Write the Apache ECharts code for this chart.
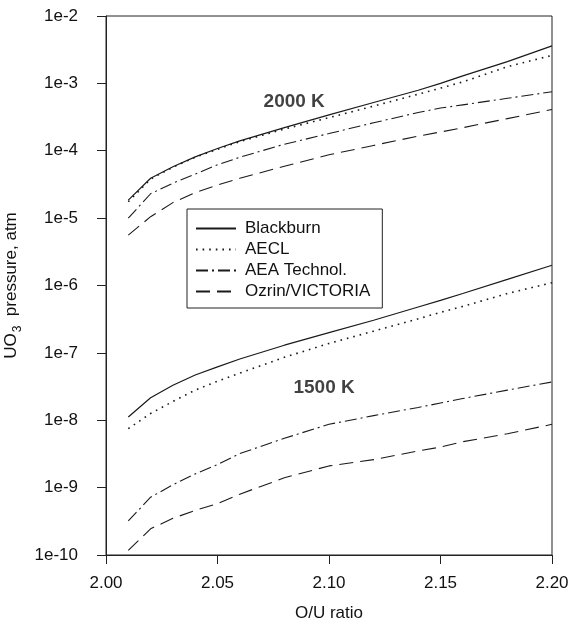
<!DOCTYPE html>
<html>
<head>
<meta charset="utf-8">
<script src="https://cdn.jsdelivr.net/npm/echarts@6/dist/echarts.min.js"></script>
<style>html,body{margin:0;padding:0;background:#fff}#c{width:571px;height:620px}</style>
</head>
<body>
<div id="c"></div>
<script>
// O/U ratio sample points
const ouRatio = [2.01, 2.02, 2.03, 2.04, 2.05, 2.06, 2.08, 2.10, 2.12, 2.14, 2.15, 2.16, 2.18, 2.20];

// 2000 K curves (atm)
const blackburn2000 = [1.85e-5, 3.9e-5, 5.8e-5, 8.1e-5, 1.08e-4, 1.4e-4, 2.2e-4, 3.4e-4, 5.2e-4, 7.9e-4, 1.0e-3, 1.29e-3, 2.1e-3, 3.6e-3];
const aecl2000      = [1.75e-5, 3.8e-5, 5.7e-5, 8.0e-5, 1.05e-4, 1.37e-4, 2.1e-4, 3.1e-4, 4.6e-4, 6.9e-4, 8.5e-4, 1.05e-3, 1.77e-3, 2.6e-3];
const aea2000       = [1.0e-5, 2.3e-5, 3.3e-5, 4.5e-5, 6.2e-5, 8.0e-5, 1.25e-4, 1.8e-4, 2.6e-4, 3.7e-4, 4.3e-4, 4.8e-4, 6.0e-4, 7.5e-4];
const ozrin2000     = [5.6e-6, 1.05e-5, 1.7e-5, 2.4e-5, 3.1e-5, 3.9e-5, 5.9e-5, 8.7e-5, 1.2e-4, 1.65e-4, 1.9e-4, 2.2e-4, 3.0e-4, 4.1e-4];

// 1500 K curves (atm)
const blackburn1500 = [1.12e-8, 2.16e-8, 3.3e-8, 4.7e-8, 6.2e-8, 8.1e-8, 1.3e-7, 2.0e-7, 3.05e-7, 4.8e-7, 6.0e-7, 7.6e-7, 1.23e-6, 2.0e-6];
const aecl1500      = [7.5e-9, 1.26e-8, 1.9e-8, 2.8e-8, 3.8e-8, 5.0e-8, 8.6e-8, 1.38e-7, 2.1e-7, 3.2e-7, 4.0e-7, 4.9e-7, 7.6e-7, 1.1e-6];
const aea1500       = [3.2e-10, 7.2e-10, 1.1e-9, 1.6e-9, 2.2e-9, 3.2e-9, 5.4e-9, 8.7e-9, 1.17e-8, 1.55e-8, 1.8e-8, 2.1e-8, 2.8e-8, 3.7e-8];
const ozrin1500     = [1.17e-10, 2.45e-10, 3.5e-10, 4.6e-10, 5.8e-10, 8.0e-10, 1.4e-9, 2.1e-9, 2.6e-9, 3.5e-9, 4.0e-9, 4.8e-9, 6.3e-9, 8.7e-9];

const legendNames = ['Blackburn', 'AECL', 'AEA Technol.', 'Ozrin/VICTORIA'];
const xTicks = [2.00, 2.05, 2.10, 2.15, 2.20];
const yTickExponents = [-10, -9, -8, -7, -6, -5, -4, -3, -2];
const tempLabels = [
  { name: '2000 K', x: 2.0844, y: 5.3e-4 },
  { name: '1500 K', x: 2.0978, y: 3.05e-8 }
];

const styles = {
  'Blackburn':      { type: 'solid', width: 1.2 },
  'AECL':           { type: [1.6, 5], width: 1.6 },
  'AEA Technol.':   { type: [12, 4, 2, 4], width: 1.1 },
  'Ozrin/VICTORIA': { type: [14, 7], width: 1.1 }
};

function pairs(arr) { return ouRatio.map((x, i) => [x, arr[i]]); }

function lineSeries(name, arr) {
  const s = styles[name];
  return {
    name: name, type: 'line', data: pairs(arr), symbol: 'none', showSymbol: false, smooth: false,
    lineStyle: { color: '#1a1a1a', width: s.width, type: s.type },
    itemStyle: { color: '#1a1a1a' }, silent: true, animation: false
  };
}

const series = [
  lineSeries('Blackburn', blackburn2000),
  lineSeries('AECL', aecl2000),
  lineSeries('AEA Technol.', aea2000),
  lineSeries('Ozrin/VICTORIA', ozrin2000),
  lineSeries('Blackburn', blackburn1500),
  lineSeries('AECL', aecl1500),
  lineSeries('AEA Technol.', aea1500),
  lineSeries('Ozrin/VICTORIA', ozrin1500),
  {
    name: 'labels', type: 'scatter', symbolSize: 0, silent: true, animation: false,
    data: tempLabels.map(t => ({ value: [t.x, t.y], name: t.name })),
    label: {
      show: true, position: 'inside', formatter: p => p.name,
      fontFamily: 'Liberation Sans, Arial, sans-serif', fontWeight: 'bold', fontSize: 19, color: '#111'
    }
  }
];

const font = 'Liberation Sans, Arial, sans-serif';
const chart = echarts.init(document.getElementById('c'), null, { renderer: 'canvas' });
chart.setOption({
  backgroundColor: '#fff',
  animation: false,
  grid: { left: 106, right: 19, top: 16, bottom: 65, containLabel: false, outerBoundsMode: 'none',
    show: true, borderColor: '#222', borderWidth: 1 },
  legend: {
    data: legendNames, orient: 'vertical', left: 187, top: 209,
    itemWidth: 40, itemHeight: 14, itemGap: 4,
    padding: [11, 12, 8, 8],
    borderColor: '#222', borderWidth: 1, backgroundColor: '#fff',
    itemStyle: { opacity: 0 },
    textStyle: { fontFamily: font, fontSize: 17, color: '#111', lineHeight: 14, padding: [0, 0, 0, 4] },
    selectedMode: false
  },
  xAxis: {
    type: 'value', min: 2.0, max: 2.2, interval: 0.05,
    name: 'O/U ratio', nameLocation: 'middle', nameGap: 50,
    nameTextStyle: { fontFamily: font, fontSize: 17, color: '#111' },
    axisLine: { show: true, onZero: false, lineStyle: { color: '#222', width: 1 } },
    axisTick: { show: true, inside: false, length: 9, lineStyle: { color: '#222' } },
    axisLabel: { margin: 20, fontFamily: font, fontSize: 17, color: '#111',
      formatter: v => { const m = xTicks.find(t => Math.abs(t - v) < 1e-6); return m !== undefined ? m.toFixed(2) : ''; } },
    splitLine: { show: false }
  },
  yAxis: {
    type: 'log', logBase: 10, min: 1e-10, max: 1e-2, interval: 1,
    name: '{a|UO}{b|3}{a|  pressure, atm}', nameLocation: 'middle', nameGap: 63,
    nameTextStyle: {
      fontFamily: font, fontSize: 17, color: '#111',
      rich: {
        a: { fontFamily: font, fontSize: 17, color: '#111', lineHeight: 17, verticalAlign: 'top' },
        b: { fontFamily: font, fontSize: 12, color: '#111', lineHeight: 12, padding: [9, 0, 0, 1], verticalAlign: 'top' }
      }
    },
    axisLine: { show: true, lineStyle: { color: '#222', width: 1 } },
    axisTick: { show: true, inside: false, length: 9, lineStyle: { color: '#222' } },
    minorTick: { show: false },
    axisLabel: { margin: 28, fontFamily: font, fontSize: 17, color: '#111',
      formatter: v => { const e = Math.round(Math.log10(v)); return yTickExponents.includes(e) ? '1e' + e : ''; } },
    splitLine: { show: false }
  },
  series: series
});
</script>
</body>
</html>
